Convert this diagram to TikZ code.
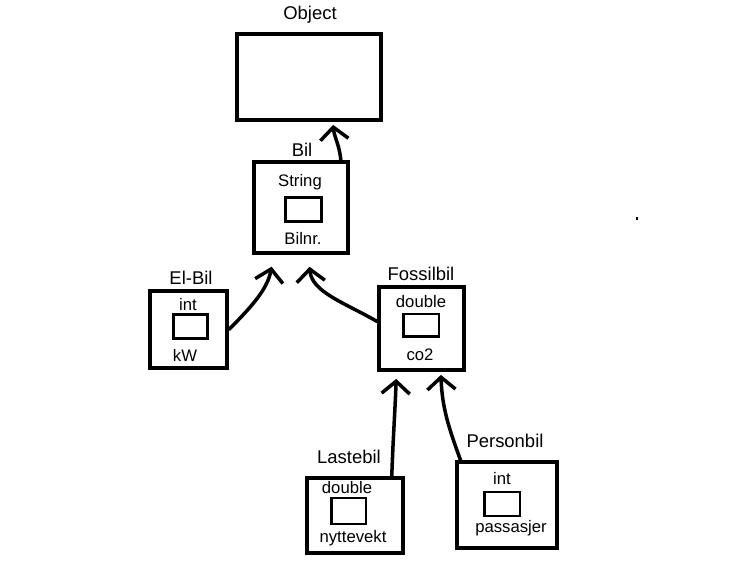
\documentclass[tikz,border=0pt]{standalone}
\usepackage{fontspec}
\setmainfont{Liberation Sans}
\usetikzlibrary{arrows.meta}
\tikzset{
	classbox/.style 2 args={draw, line width=2.2pt, minimum width=#1, minimum height=#2, inner sep=0pt},
	fieldbox/.style 2 args={draw, line width=1.7pt, minimum width=#1, minimum height=#2, inner sep=0pt},
	classname/.style={inner sep=0pt, font=\fontsize{10.5}{12}\selectfont},
	fieldtext/.style={inner sep=0pt, font=\fontsize{9.5}{11}\selectfont},
	inherits/.style={-{Straight Barb[length=7pt,width=16pt]}, line width=2pt, line cap=round}
}
\begin{document}
\begin{tikzpicture}[x=0.02cm, y=0.02cm]
			\useasboundingbox (0,0) rectangle (740,564);

			% Draw the Object class
			\node[classbox={2.88cm}{1.72cm}] (object) at (309,487) {};
			\node[classname] (objectname) at (310,549) {Object};

			% Draw the Bil class
			\node[classbox={1.88cm}{1.82cm}] (bil) at (301,356.5) {};
			\node[classname] (bilname) at (302,414) {Bil};
			\node[fieldtext] (biltype) at (300,382) {String};
			\node[fieldbox={0.72cm}{0.48cm}] (bilfield) at (303.5,354.5) {};
			\node[fieldtext] (bilvar) at (303,326) {Bilnr.};

			% Draw the El-Bil class
			\node[classbox={1.54cm}{1.54cm}] (elbil) at (188.5,234.5) {};
			\node[classname] (elbilname) at (191,286) {El-Bil};
			\node[fieldtext] (elbiltype) at (188,259) {int};
			\node[fieldbox={0.68cm}{0.48cm}] (elbilfield) at (190.5,237.5) {};
			\node[fieldtext] (elbilvar) at (185,209) {kW};

			% Draw the Fossilbil class
			\node[classbox={1.70cm}{1.66cm}] (fossil) at (421.5,235.5) {};
			\node[classname] (fossilname) at (421,290) {Fossilbil};
			\node[fieldtext] (fossiltype) at (421,262) {double};
			\node[fieldbox={0.72cm}{0.46cm}] (fossilfield) at (421,238.5) {};
			\node[fieldtext] (fossilvar) at (420,209) {co2};

			% Draw the Lastebil class
			\node[classbox={1.92cm}{1.50cm}] (laste) at (355,48.5) {};
			\node[classname] (lastename) at (349,107) {Lastebil};
			\node[fieldtext] (lastetype) at (347,76) {double};
			\node[fieldbox={0.70cm}{0.52cm}] (lastefield) at (348.5,53) {};
			\node[fieldtext] (lastevar) at (353,26) {nyttevekt};

			% Draw the Personbil class
			\node[classbox={2.00cm}{1.72cm}] (person) at (507,59) {};
			\node[classname] (personname) at (505,123) {Personbil};
			\node[fieldtext] (persontype) at (502,85) {int};
			\node[fieldbox={0.72cm}{0.48cm}] (personfield) at (502,60) {};
			\node[fieldtext] (personvar) at (511,36) {passasjer};

			% Draw the inheritance arrows
			\draw[inherits, shorten >=1.7pt] (bil.50) to[out=95, in=-85] (object.-62);
			\draw[inherits, shorten >=6.8pt] (elbil.east) to[out=45, in=-100] (bil.-120);
			\draw[inherits, shorten >=6.8pt] (fossil.171) to[out=150, in=-85] (bil.-81);
			\draw[inherits, shorten >=4pt] (laste.47) to[out=88, in=-92] (fossil.-120);
			\draw[inherits, shorten >=1.7pt] (person.136) to[out=110, in=-88] (fossil.-66);

			% Draw the stray dot
			\fill (636,344) rectangle (638,347);

		\end{tikzpicture}
\end{document}
